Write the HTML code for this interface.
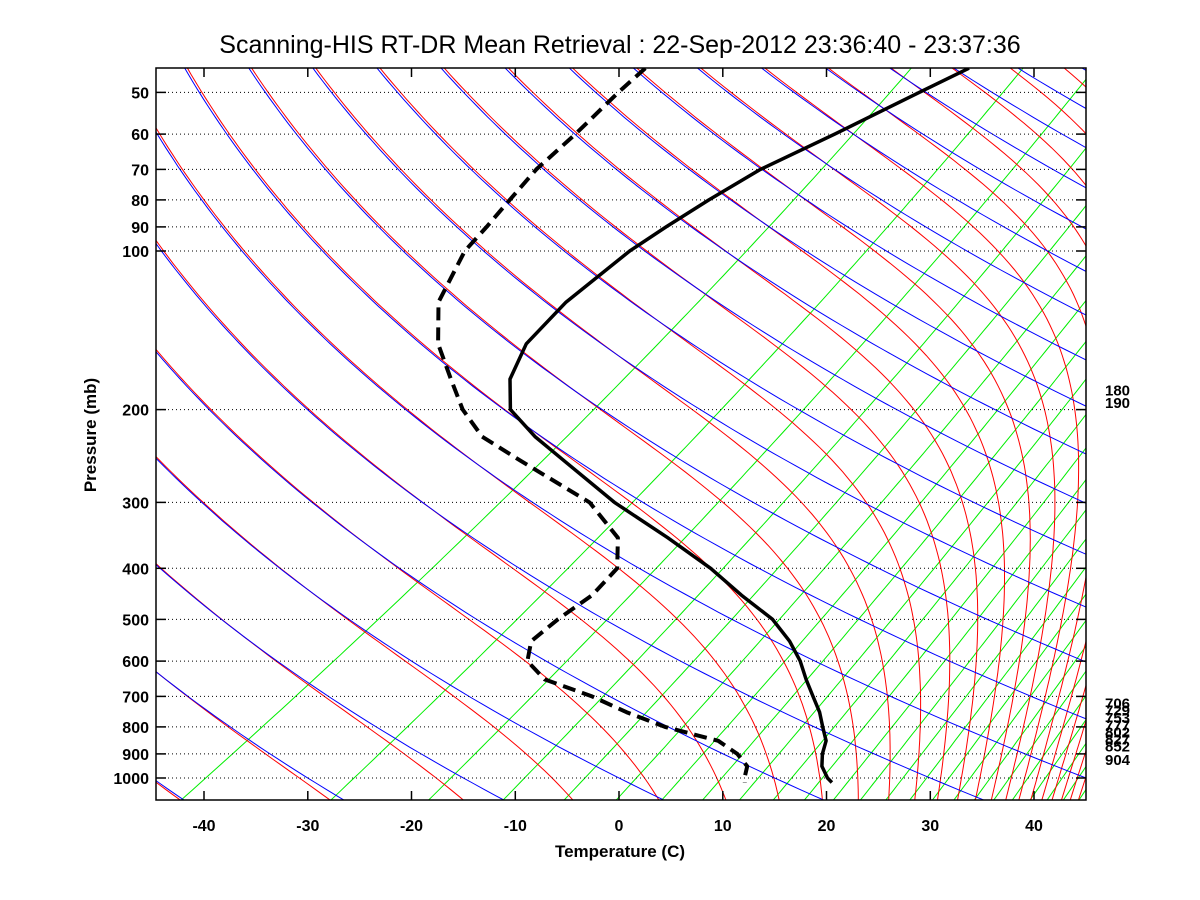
<!DOCTYPE html>
<html><head><meta charset="utf-8">
<style>
body{margin:0;background:#fff;}
svg{display:block;font-family:"Liberation Sans",sans-serif;}
</style></head>
<body>
<svg id="chart" width="1200" height="900" viewBox="0 0 1200 900" xmlns="http://www.w3.org/2000/svg">
<rect x="0" y="0" width="1200" height="900" fill="#fff"/>
<defs><clipPath id="plotclip"><rect x="156" y="68" width="930" height="732"/></clipPath></defs>
<text x="620" y="53" text-anchor="middle" font-size="25">Scanning-HIS RT-DR Mean Retrieval : 22-Sep-2012 23:36:40 - 23:37:36</text>
<g id="bg" clip-path="url(#plotclip)"></g>
<g id="grid"></g>
<g id="profiles" clip-path="url(#plotclip)"></g>
<g id="axes"></g>
<text x="620" y="857" text-anchor="middle" font-size="17" font-weight="bold">Temperature (C)</text>
<text transform="translate(96,435) rotate(-90)" text-anchor="middle" font-size="17" font-weight="bold">Pressure (mb)</text>
</svg>
<script>
// ---- data ----
const pressureLevels = [45,50,60,70,80,90,100,125,150,175,200,225,250,300,350,400,450,500,550,600,650,700,750,800,850,900,950,1000,1020];
const temperatureC = [-72.3,-73.5,-75.4,-77.3,-77.7,-77.8,-77.7,-76.2,-73.8,-70.1,-65.5,-59.1,-52.7,-41.6,-31.2,-22.5,-15.5,-8.9,-4.0,0.0,3.3,6.5,9.5,12.0,14.4,16.0,17.8,20.1,21.2];
const dewpointC = [-103.5,-102.5,-100.4,-98.9,-96.9,-95.1,-93.6,-88.5,-82.3,-75.8,-70.1,-64.2,-56.9,-44.0,-36.0,-31.5,-29.9,-29.6,-28.9,-26.3,-21.9,-14.8,-9.1,-3.2,4.0,7.8,10.6,12.1,12.8];
const xTicks = [-40,-30,-20,-10,0,10,20,30,40];
const yTicks = [50,60,70,80,90,100,200,300,400,500,600,700,800,900,1000];
const upperLabels = [180,190];
const lowerLabels = [706,729,753,777,802,827,852,904];

// ---- axis functions ----
const PL=156, PR=1086, PT=68, PB=800;
function yP(p){return 251+527*Math.log10(p/100);}
function xTP(t,p){return 619+10.375*t+1.55*(778-yP(p));}
function skewBG(y){const d=778-y;return 1.55*d-0.35*d*d/(2*710);}
function xBG(t,p){return 619+10.375*t+skewBG(yP(p));}
const NS='http://www.w3.org/2000/svg';
function mk(tag,attrs,parent){const e=document.createElementNS(NS,tag);for(const k in attrs)e.setAttribute(k,attrs[k]);parent.appendChild(e);return e;}
const bg=document.getElementById('bg'),grid=document.getElementById('grid'),prof=document.getElementById('profiles'),axes=document.getElementById('axes');
const plist=[];for(let i=0;i<=120;i++)plist.push(45*Math.pow(1110/45,i/120));
function es(tc){return 6.112*Math.exp(17.67*tc/(tc+243.5));}
function pathFrom(fn){let d='';plist.forEach((p,i)=>{const t=fn(p);d+=(i?'L':'M')+xBG(t,p).toFixed(1)+' '+yP(p).toFixed(1);});return d;}

// mixing ratio lines (green)
for(let n=1;n<=26;n++){const w=0.12*n*n;
 const el=mk('path',{d:pathFrom(p=>{const e=w*p/(622+w);const l=Math.log(e/6.112);return 243.5*l/(17.67-l);}),fill:'none',stroke:'#00ee00','stroke-width':1},bg);
 
 }
// moist adiabats (red)
function thetaE(T,p){const tc=T-273.15;const e=es(tc);const r=622*e/(p-e);return T*Math.pow(1000/p,0.2854*(1-0.00028*r))*Math.exp((3.376/T-0.00254)*r*(1+0.00081*r));}
for(let m=-5;m<=34;m++){const th=273.15+15*m;
 const el=mk('path',{d:pathFrom(p=>{let lo=100,hi=340;for(let k=0;k<40;k++){const mid=(lo+hi)/2;if(thetaE(mid,p)>th)hi=mid;else lo=mid;}return (lo+hi)/2-273.15;}),fill:'none',stroke:'#ff0000','stroke-width':1},bg);
 
 }
// dry adiabats (blue)
for(let m=-5;m<=22;m++){const th=273.15+15*m;
 const el=mk('path',{d:pathFrom(p=>th*Math.pow(p/1000,0.286)-273.15),fill:'none',stroke:'#0000ff','stroke-width':1},bg);
 
 }

// pressure gridlines + y ticks
yTicks.forEach(p=>{const y=yP(p).toFixed(1);
 const g=mk('line',{x1:PL,x2:PR,y1:y,y2:y,stroke:'#000','stroke-width':1,'stroke-dasharray':'1 3'},grid);
 
 
 mk('line',{x1:PL,x2:PL+10,y1:y,y2:y,stroke:'#000','stroke-width':1.5},axes);
 mk('line',{x1:PR-10,x2:PR,y1:y,y2:y,stroke:'#000','stroke-width':1.5},axes);
 const t=mk('text',{x:149,y:(yP(p)+6).toFixed(1),'text-anchor':'end','font-size':16,'font-weight':'bold'},axes);
 t.textContent=p;
 
 });
// x ticks
xTicks.forEach(v=>{const x=(619+10.375*v).toFixed(1);
 mk('line',{x1:x,x2:x,y1:PB,y2:PB-9,stroke:'#000','stroke-width':1.5},axes);
 mk('line',{x1:x,x2:x,y1:PT,y2:PT+9,stroke:'#000','stroke-width':1.5},axes);
 const t=mk('text',{x:x,y:831,'text-anchor':'middle','font-size':16,'font-weight':'bold'},axes);
 t.textContent=v;
 
 });
const fr=mk('rect',{x:PL,y:PT,width:PR-PL,height:PB-PT,fill:'none',stroke:'#000','stroke-width':1.5},axes);


// right labels
upperLabels.concat(lowerLabels).forEach(p=>{const t=mk('text',{x:1105,y:(yP(p)+10).toFixed(1),'font-size':15,'font-weight':'bold'},axes);
 t.textContent=p;
 
 });

// profiles
function profPath(arr){return pressureLevels.map((p,i)=>(i?'L':'M')+xTP(arr[i],p).toFixed(1)+' '+yP(p).toFixed(1)).join('');}
const dl=mk('path',{d:profPath(dewpointC),fill:'none',stroke:'#000','stroke-width':4,'stroke-dasharray':'13 7','stroke-linejoin':'round'},prof);


const tl=mk('path',{d:profPath(temperatureC),fill:'none',stroke:'#000','stroke-width':3.5,'stroke-linejoin':'round'},prof);


</script>
</body></html>
